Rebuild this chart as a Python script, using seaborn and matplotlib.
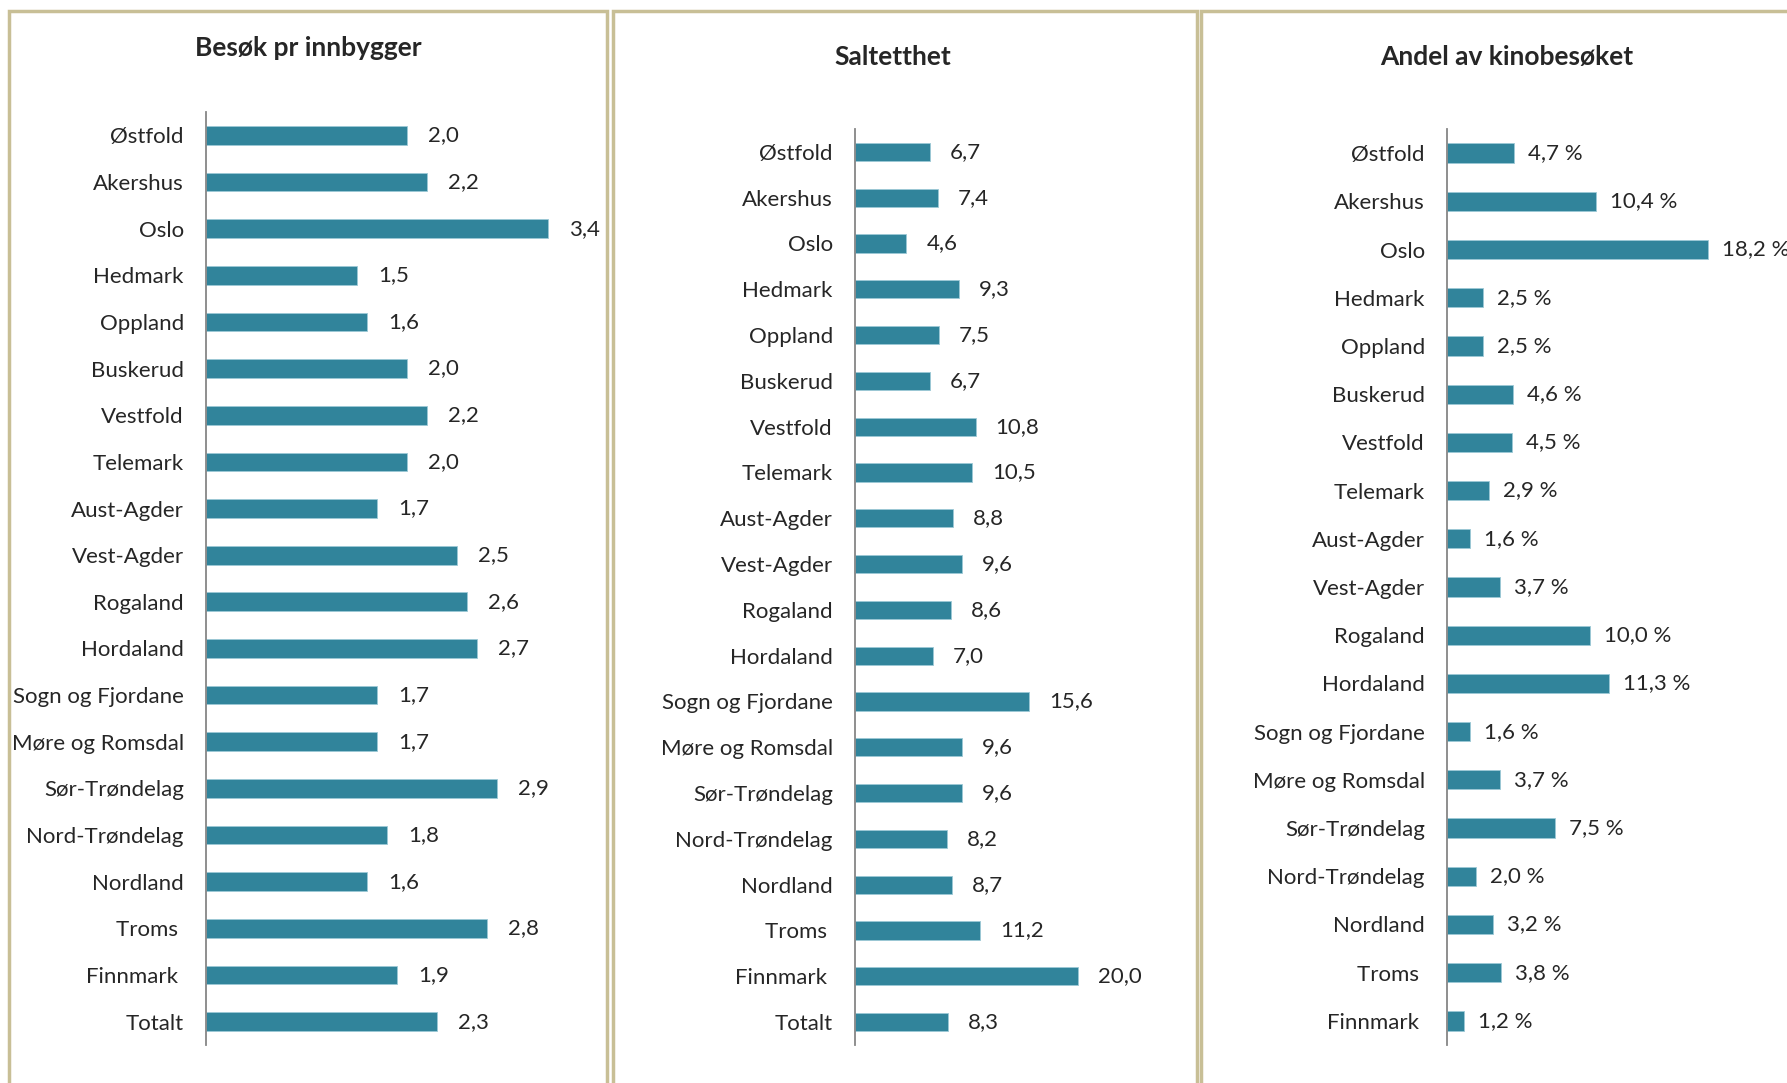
import matplotlib
matplotlib.use("Agg")
import matplotlib.pyplot as plt
from matplotlib.patches import Rectangle
import seaborn as sns

sns.set_style("white")
plt.rcParams['font.family'] = ['Lato', 'DejaVu Sans']

fylker = ["Østfold", "Akershus", "Oslo", "Hedmark", "Oppland", "Buskerud",
          "Vestfold", "Telemark", "Aust-Agder", "Vest-Agder", "Rogaland",
          "Hordaland", "Sogn og Fjordane", "Møre og Romsdal", "Sør-Trøndelag",
          "Nord-Trøndelag", "Nordland", "Troms ", "Finnmark "]
fylker_tot = fylker + ["Totalt"]

besok = [2.0, 2.2, 3.4, 1.5, 1.6, 2.0, 2.2, 2.0, 1.7, 2.5, 2.6, 2.7,
         1.7, 1.7, 2.9, 1.8, 1.6, 2.8, 1.9, 2.3]
salt = [6.7, 7.4, 4.6, 9.3, 7.5, 6.7, 10.8, 10.5, 8.8, 9.6, 8.6, 7.0,
        15.6, 9.6, 9.6, 8.2, 8.7, 11.2, 20.0, 8.3]
andel = [4.7, 10.4, 18.2, 2.5, 2.5, 4.6, 4.5, 2.9, 1.6, 3.7, 10.0, 11.3,
         1.6, 3.7, 7.5, 2.0, 3.2, 3.8, 1.2]

W, H = 1787, 1083
BAR = "#31849B"
TXT = "#262626"

fig = plt.figure(figsize=(W / 100, H / 100), dpi=100)
fig.patch.set_facecolor("white")

def px_ax(x0, top, bottom, width):
    return fig.add_axes([x0 / W, 1 - bottom / H, width / W, (bottom - top) / H])

# panel frames
for x0, x1 in [(9, 607), (613, 1197), (1201, 1810)]:
    fig.patches.append(Rectangle((x0 / W, 1 - 1110 / H), (x1 - x0) / W, (1110 - 11) / H,
                                 transform=fig.transFigure, fill=False,
                                 edgecolor="#C8BF96", linewidth=2.5))

panels = [
    (fylker_tot, besok, "Besøk pr innbygger", (206, 112, 1045, 402), 4, "{}", 21, (308, 48)),
    (fylker_tot, salt, "Saltetthet", (855, 129, 1045, 279), 25, "{}", 20, (893, 57)),
    (fylker, andel, "Andel av kinobesøket", (1447, 129, 1045, 315.5), 22, "{} %", 14, (1507, 57)),
]

for labels, vals, title, box, xmax, fmt, gap, tpos in panels:
    ax = px_ax(*box)
    sns.barplot(x=vals, y=labels, ax=ax, color=BAR, width=0.4, orient="h",
                saturation=1, edgecolor="#9CC9D6", linewidth=0.6)
    ax.set_xlim(0, xmax)
    ax.set_ylim(len(labels) - 0.5, -0.5)
    ax.set_xlabel("")
    ax.set_ylabel("")
    ax.set_xticks([])
    for s in ["top", "right", "bottom"]:
        ax.spines[s].set_visible(False)
    ax.spines["left"].set_color("#868686")
    ax.spines["left"].set_linewidth(1.3)
    ax.tick_params(axis="y", length=0, pad=16, labelsize=16, labelcolor=TXT)
    ax.set_facecolor("none")
    for i, v in enumerate(vals):
        ax.annotate(fmt.format(f"{v:.1f}".replace(".", ",")), (v, i),
                    xytext=(gap, 0), textcoords="offset pixels",
                    ha="left", va="center", fontsize=16, color=TXT,
                    annotation_clip=False)
    fig.text(tpos[0] / W, 1 - tpos[1] / H, title, ha="center", va="center",
             fontsize=19, fontweight="bold", color=TXT)

fig.savefig("out.png", dpi=100, facecolor="white")
